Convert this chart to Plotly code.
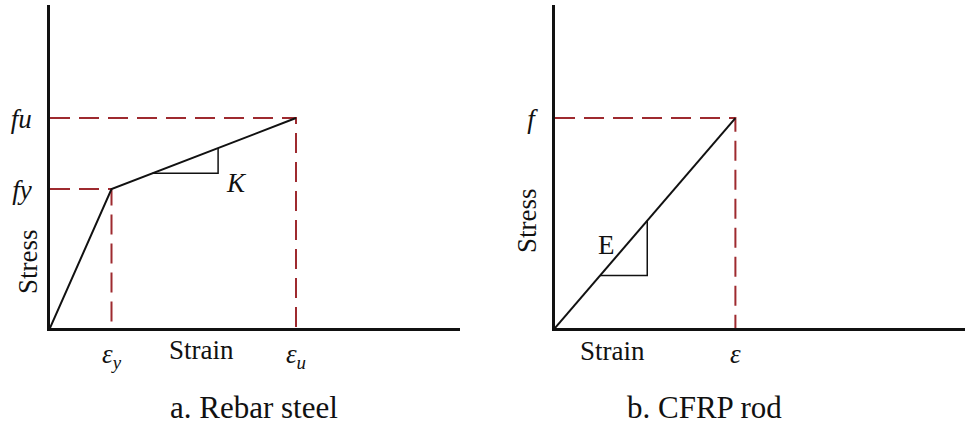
import plotly.graph_objects as go

# Rebar steel: bilinear stress-strain model (arbitrary units)
steel_strain = [0.0, 1.5, 6.0]          # 0, eps_y, eps_u
steel_stress = [0.0, 4.3, 6.5]          # 0, fy, fu
steel_tick_text_x = ["<i>ε<sub>y</sub></i>", "<i>ε<sub>u</sub></i>"]
steel_tick_text_y = ["<i>fy</i>", "<i>fu</i>"]
steel_slope_tri_x = [2.5, 4.1]          # hardening slope marker K

# CFRP rod: linear elastic up to rupture
cfrp_strain = [0.0, 4.4]                # 0, eps
cfrp_stress = [0.0, 6.5]                # 0, f
cfrp_tick_text_x = ["<i>ε</i>"]
cfrp_tick_text_y = ["<i>f</i>"]
cfrp_slope_tri_x = [1.1, 2.25]          # modulus marker E

captions = ["a. Rebar steel", "b. CFRP rod"]

SERIF = "Liberation Serif"
RED = "#9E2A2F"
BLACK = "#111111"


def interp(xs, ys, x):
    for i in range(len(xs) - 1):
        if xs[i] <= x <= xs[i + 1]:
            t = (x - xs[i]) / (xs[i + 1] - xs[i])
            return ys[i] + t * (ys[i + 1] - ys[i])
    return ys[-1]


fig = go.Figure()


def add_panel(xs, ys, tri_x, xa, ya):
    # guide lines from the axes to the characteristic points
    for px, py in zip(xs[1:], ys[1:]):
        fig.add_trace(go.Scatter(
            x=[0, px, px], y=[py, py, 0], mode="lines",
            line=dict(color=RED, width=2, dash="20px,9px"),
            xaxis=xa, yaxis=ya, hoverinfo="skip", showlegend=False))
    # the constitutive curve
    fig.add_trace(go.Scatter(
        x=xs, y=ys, mode="lines", line=dict(color=BLACK, width=2),
        xaxis=xa, yaxis=ya, hoverinfo="skip", showlegend=False))
    # slope triangle
    x0, x1 = tri_x
    y0 = interp(xs, ys, x0)
    y1 = interp(xs, ys, x1)
    fig.add_trace(go.Scatter(
        x=[x0, x1, x1], y=[y0, y0, y1], mode="lines",
        line=dict(color=BLACK, width=1.5),
        xaxis=xa, yaxis=ya, hoverinfo="skip", showlegend=False))
    return x1, y0, y1


kx, ky0, ky1 = add_panel(steel_strain, steel_stress, steel_slope_tri_x, "x", "y")
ex, ey0, ey1 = add_panel(cfrp_strain, cfrp_stress, cfrp_slope_tri_x, "x2", "y2")

y_dom = [107 / 435, 430 / 435]
axis_common = dict(
    showgrid=False, zeroline=False, showline=True, linecolor=BLACK,
    linewidth=2.5, ticks="", tickfont=dict(family=SERIF, size=27, color=BLACK),
)

fig.update_layout(
    width=965, height=435,
    margin=dict(l=0, r=0, t=0, b=0),
    paper_bgcolor="white", plot_bgcolor="white",
    xaxis=dict(axis_common, domain=[50 / 965, 460 / 965], range=[0, 10],
               tickvals=steel_strain[1:], ticktext=steel_tick_text_x,
               anchor="y", ticklabelstandoff=0),
    yaxis=dict(axis_common, domain=y_dom, range=[0, 10],
               tickvals=steel_stress[1:], ticktext=steel_tick_text_y,
               anchor="x", ticklabelstandoff=10),
    xaxis2=dict(axis_common, domain=[555 / 965, 1.0], range=[0, 10],
                tickvals=cfrp_strain[1:], ticktext=cfrp_tick_text_x,
                anchor="y2", ticklabelstandoff=0),
    yaxis2=dict(axis_common, domain=y_dom, range=[0, 10],
                tickvals=cfrp_stress[1:], ticktext=cfrp_tick_text_y,
                anchor="x2", ticklabelstandoff=12),
)

txt = dict(family=SERIF, size=27, color=BLACK)
ann = [
    dict(text="Strain", x=3.7, xref="x", y=(435 - 350) / 435, yref="paper"),
    dict(text="Strain", x=1.4, xref="x2", y=(435 - 351) / 435, yref="paper"),
    dict(text="Stress", x=28 / 965, xref="paper", y=(435 - 262) / 435,
         yref="paper", textangle=-90),
    dict(text="Stress", x=527 / 965, xref="paper", y=(435 - 221) / 435,
         yref="paper", textangle=-90),
    dict(text="<i>K</i>", x=kx + 0.45, xref="x", y=ky0 - 0.3, yref="y"),
    dict(text="E", x=ex - 1.0, xref="x2", y=(ey0 + ey1) / 2 + 0.1, yref="y2"),
]
for a in ann:
    fig.add_annotation(showarrow=False, font=txt, xanchor="center",
                       yanchor="middle", **a)

for cap, cx in zip(captions, [254, 704]):
    fig.add_annotation(text=cap, x=cx / 965, xref="paper", y=(435 - 407) / 435,
                       yref="paper", showarrow=False, xanchor="center",
                       yanchor="middle", font=dict(family=SERIF, size=31,
                                                   color=BLACK))

fig.write_html("out.html")
